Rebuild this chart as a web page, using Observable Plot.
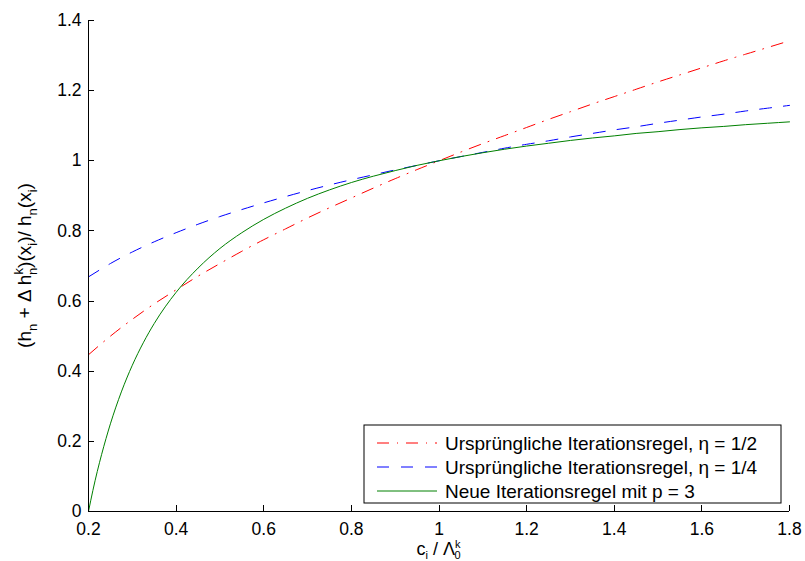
<!DOCTYPE html>
<html><head><meta charset="utf-8">
<script src="https://cdn.jsdelivr.net/npm/d3@7"></script>
<script src="https://cdn.jsdelivr.net/npm/@observablehq/plot@0.6"></script>
<style>
body{margin:0;background:#fff}
svg{font-family:"Liberation Sans",Arial,Helvetica,sans-serif}
</style>
</head><body><div id="chart"></div>
<script>
// x positions shared by the two "Ursprüngliche" series
const xValues = [0.2,0.25,0.3,0.35,0.4,0.45,0.5,0.55,0.6,0.65,0.7,0.75,0.8,0.85,0.9,0.95,1.0,1.05,1.1,1.15,1.2,1.25,1.3,1.35,1.4,1.45,1.5,1.55,1.6,1.65,1.7,1.75,1.8];
const redValues = [0.447,0.5,0.548,0.592,0.632,0.671,0.707,0.742,0.775,0.806,0.837,0.866,0.894,0.922,0.949,0.975,1.0,1.025,1.049,1.072,1.095,1.118,1.140,1.162,1.183,1.204,1.225,1.245,1.265,1.285,1.304,1.323,1.342];
const blueValues = [0.669,0.707,0.740,0.769,0.795,0.819,0.841,0.861,0.880,0.898,0.915,0.931,0.946,0.960,0.974,0.987,1.0,1.012,1.024,1.036,1.047,1.057,1.068,1.078,1.088,1.097,1.107,1.116,1.125,1.133,1.142,1.150,1.158];
// green series read more densely near the steep start
const greenX = [0.2,0.21,0.22,0.23,0.24,0.25,0.275,0.3,0.325,0.35,0.4,0.45,0.5,0.55,0.6,0.65,0.7,0.75,0.8,0.85,0.9,0.95,1.0,1.05,1.1,1.15,1.2,1.25,1.3,1.35,1.4,1.45,1.5,1.55,1.6,1.65,1.7,1.75,1.8];
const greenValues = [0,0.060,0.114,0.163,0.208,0.25,0.341,0.417,0.481,0.536,0.625,0.694,0.75,0.795,0.833,0.865,0.893,0.917,0.938,0.956,0.972,0.987,1.0,1.012,1.023,1.033,1.042,1.05,1.058,1.065,1.071,1.078,1.083,1.089,1.094,1.098,1.103,1.107,1.111];
const seriesNames = ["Ursprüngliche Iterationsregel, η = 1/2","Ursprüngliche Iterationsregel, η = 1/4","Neue Iterationsregel mit p = 3"];
const seriesColors = ["#ff0000","#0000ff","#008000"];
const seriesDash = ["12,8,1,8","12,12","none"];
const xTicks = [0.2,0.4,0.6,0.8,1,1.2,1.4,1.6,1.8];
const yTicks = [0,0.2,0.4,0.6,0.8,1,1.2,1.4];

const W = 805, H = 561, mL = 88, mR = 16, mT = 20, mB = 50;
const innerW = W - mL - mR, innerH = H - mT - mB;
const tickFont = 17.5, labelFont = 19, legendFont = 19;

const red = xValues.map((x,i)=>({x, y: redValues[i]}));
const blue = xValues.map((x,i)=>({x, y: blueValues[i]}));
const green = greenX.map((x,i)=>({x, y: greenValues[i]}));

const fmt = d => String(d);
const plot = Plot.plot({
  width: W, height: H,
  marginLeft: mL, marginRight: mR, marginTop: mT, marginBottom: mB,
  style: {fontFamily: '"Liberation Sans",Arial,sans-serif', fontSize: tickFont + "px", color: "#000", background: "#fff"},
  x: {domain: [xTicks[0], xTicks[xTicks.length-1]]},
  y: {domain: [yTicks[0], yTicks[yTicks.length-1]]},
  marks: [
    Plot.axisX(xTicks, {tickSize: 0, tickPadding: 11, tickFormat: fmt, label: null, fontSize: tickFont}),
    Plot.axisY(yTicks, {tickSize: 0, tickPadding: 7, tickFormat: fmt, label: null, fontSize: tickFont}),
    Plot.line(red, {x: "x", y: "y", stroke: seriesColors[0], strokeWidth: 1, strokeDasharray: seriesDash[0], curve: "natural"}),
    Plot.line(blue, {x: "x", y: "y", stroke: seriesColors[1], strokeWidth: 1, strokeDasharray: seriesDash[1], curve: "natural"}),
    Plot.line(green, {x: "x", y: "y", stroke: seriesColors[2], strokeWidth: 1, curve: "monotone-x"}),
    Plot.ruleX([xTicks[0]], {stroke: "#000", strokeWidth: 1}),
    Plot.ruleY([yTicks[0]], {stroke: "#000", strokeWidth: 1})
  ]
});
document.getElementById("chart").append(plot);

const svg = d3.select(plot);
const sx = plot.scale("x"), sy = plot.scale("y");
// inward tick marks, positioned through the plot's own scales
const tg = svg.append("g").attr("stroke", "#000").attr("stroke-width", 1);
const y0 = sy.apply(yTicks[0]), x0 = sx.apply(xTicks[0]);
xTicks.forEach(v => {
  const px = Math.round(sx.apply(v)) + 0.5;
  tg.append("line").attr("x1", px).attr("x2", px).attr("y1", y0).attr("y2", y0 - 6);
});
yTicks.forEach(v => {
  const py = Math.round(sy.apply(v)) + 0.5;
  tg.append("line").attr("x1", x0).attr("x2", x0 + 6).attr("y1", py).attr("y2", py);
});

// Legend box
const lg = svg.append("g").attr("text-anchor", "start");
const lx = 364, ly = 425, lw = 417, lh = 78;
lg.append("rect").attr("x", lx).attr("y", ly).attr("width", lw).attr("height", lh)
  .attr("fill", "#fff").attr("stroke", "#000").attr("stroke-width", 1);
seriesNames.forEach((name, i) => {
  const cy = ly + 18 + i * 24;
  lg.append("line").attr("x1", lx + 13).attr("x2", lx + 73).attr("y1", cy).attr("y2", cy)
    .attr("stroke", seriesColors[i]).attr("stroke-width", 1)
    .attr("stroke-dasharray", seriesDash[i] === "none" ? null : seriesDash[i]);
  lg.append("text").attr("x", lx + 81).attr("y", cy).attr("dy", "0.35em")
    .attr("text-anchor", "start").attr("font-size", legendFont).attr("fill", "#000").text(name);
});

// Y axis label with sub/superscripts
const yl = svg.append("text")
  .attr("transform", `translate(31,${mT + innerH/2}) rotate(-90)`)
  .attr("text-anchor", "middle").attr("font-size", labelFont).attr("fill", "#000");
const parts = [
  ["(h", 0, 0, labelFont], ["n", 6, 0, 13], [" + Δ h", -6, 0, labelFont], ["k", -8, 0, 13], ["n", 14, -7, 13],
  [")(x", -6, 0, labelFont], ["i", 6, 0, 13], [")/ h", -6, 0, labelFont], ["n", 6, 0, 13], ["(x", -6, 0, labelFont], ["i", 6, 0, 13], [")", -6, 0, labelFont]
];
parts.forEach(([t, dy, dx, fs]) => {
  yl.append("tspan").attr("dy", dy).attr("dx", dx).attr("font-size", fs).text(t);
});

// X axis label
const xFont = 18;
const xl = svg.append("text")
  .attr("x", mL + innerW/2).attr("y", 555)
  .attr("text-anchor", "middle").attr("font-size", xFont).attr("fill", "#000");
[["c", 0, 0, xFont], ["i", 3.5, 0, 11], [" / Λ", -3.5, 0, xFont], ["k", -7, 0, 11], ["0", 10.5, -6, 11]].forEach(([t, dy, dx, fs]) => {
  xl.append("tspan").attr("dy", dy).attr("dx", dx).attr("font-size", fs).text(t);
});
</script>
</body></html>
